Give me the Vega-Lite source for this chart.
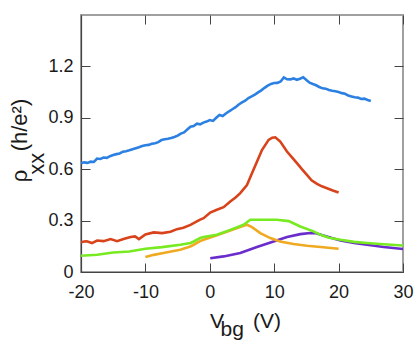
{
  "$schema": "https://vega.github.io/schema/vega-lite/v6.json",
  "width": 322,
  "height": 257,
  "autosize": {"type": "none"},
  "padding": {"left": 81, "top": 15, "right": 12, "bottom": 74},
  "background": "white",
  "config": {
    "view": {"stroke": "#a0a0a0", "strokeWidth": 2},
    "font": "Liberation Sans"
  },
  "datasets": {
    "curves": [
      {"s": "s1", "x": -20, "y": 0.635}, {"s": "s1", "x": -19.5, "y": 0.640}, {"s": "s1", "x": -19, "y": 0.637}, {"s": "s1", "x": -18.5, "y": 0.644},
      {"s": "s1", "x": -18, "y": 0.642}, {"s": "s1", "x": -17.5, "y": 0.662}, {"s": "s1", "x": -17, "y": 0.660}, {"s": "s1", "x": -16.5, "y": 0.668},
      {"s": "s1", "x": -16, "y": 0.666}, {"s": "s1", "x": -15.5, "y": 0.676}, {"s": "s1", "x": -15, "y": 0.683}, {"s": "s1", "x": -14.5, "y": 0.688},
      {"s": "s1", "x": -14, "y": 0.692}, {"s": "s1", "x": -13.5, "y": 0.702}, {"s": "s1", "x": -13, "y": 0.705}, {"s": "s1", "x": -12.5, "y": 0.710},
      {"s": "s1", "x": -12, "y": 0.716}, {"s": "s1", "x": -11.5, "y": 0.722}, {"s": "s1", "x": -11, "y": 0.728}, {"s": "s1", "x": -10.5, "y": 0.735},
      {"s": "s1", "x": -10, "y": 0.740}, {"s": "s1", "x": -9.5, "y": 0.742}, {"s": "s1", "x": -9, "y": 0.748}, {"s": "s1", "x": -8.5, "y": 0.752},
      {"s": "s1", "x": -8, "y": 0.758}, {"s": "s1", "x": -7.5, "y": 0.770}, {"s": "s1", "x": -7, "y": 0.775}, {"s": "s1", "x": -6.5, "y": 0.778},
      {"s": "s1", "x": -6, "y": 0.782}, {"s": "s1", "x": -5.5, "y": 0.788}, {"s": "s1", "x": -5, "y": 0.796}, {"s": "s1", "x": -4.5, "y": 0.808},
      {"s": "s1", "x": -4, "y": 0.815}, {"s": "s1", "x": -3.5, "y": 0.832}, {"s": "s1", "x": -3, "y": 0.848}, {"s": "s1", "x": -2.5, "y": 0.852},
      {"s": "s1", "x": -2, "y": 0.866}, {"s": "s1", "x": -1.5, "y": 0.862}, {"s": "s1", "x": -1, "y": 0.872}, {"s": "s1", "x": -0.5, "y": 0.878},
      {"s": "s1", "x": 0, "y": 0.887}, {"s": "s1", "x": 0.5, "y": 0.882}, {"s": "s1", "x": 1, "y": 0.900}, {"s": "s1", "x": 1.5, "y": 0.916},
      {"s": "s1", "x": 2, "y": 0.910}, {"s": "s1", "x": 2.5, "y": 0.925}, {"s": "s1", "x": 3, "y": 0.938}, {"s": "s1", "x": 3.5, "y": 0.950},
      {"s": "s1", "x": 4, "y": 0.962}, {"s": "s1", "x": 4.5, "y": 0.978}, {"s": "s1", "x": 5, "y": 0.990}, {"s": "s1", "x": 5.5, "y": 1.000},
      {"s": "s1", "x": 6, "y": 1.015}, {"s": "s1", "x": 6.5, "y": 1.025}, {"s": "s1", "x": 7, "y": 1.035}, {"s": "s1", "x": 7.5, "y": 1.048},
      {"s": "s1", "x": 8, "y": 1.060}, {"s": "s1", "x": 8.5, "y": 1.075}, {"s": "s1", "x": 9, "y": 1.088}, {"s": "s1", "x": 9.5, "y": 1.098},
      {"s": "s1", "x": 10, "y": 1.103}, {"s": "s1", "x": 10.5, "y": 1.104}, {"s": "s1", "x": 11, "y": 1.112}, {"s": "s1", "x": 11.5, "y": 1.136},
      {"s": "s1", "x": 12, "y": 1.125}, {"s": "s1", "x": 12.5, "y": 1.124}, {"s": "s1", "x": 13, "y": 1.130}, {"s": "s1", "x": 13.5, "y": 1.122},
      {"s": "s1", "x": 14, "y": 1.128}, {"s": "s1", "x": 14.5, "y": 1.136}, {"s": "s1", "x": 15, "y": 1.120}, {"s": "s1", "x": 15.5, "y": 1.105},
      {"s": "s1", "x": 16, "y": 1.097}, {"s": "s1", "x": 16.5, "y": 1.090}, {"s": "s1", "x": 17, "y": 1.080}, {"s": "s1", "x": 17.5, "y": 1.072},
      {"s": "s1", "x": 18, "y": 1.070}, {"s": "s1", "x": 18.5, "y": 1.062}, {"s": "s1", "x": 19, "y": 1.058}, {"s": "s1", "x": 19.5, "y": 1.055},
      {"s": "s1", "x": 20, "y": 1.050}, {"s": "s1", "x": 20.5, "y": 1.044}, {"s": "s1", "x": 21, "y": 1.040}, {"s": "s1", "x": 21.5, "y": 1.030},
      {"s": "s1", "x": 22, "y": 1.025}, {"s": "s1", "x": 22.5, "y": 1.020}, {"s": "s1", "x": 23, "y": 1.018}, {"s": "s1", "x": 23.5, "y": 1.010},
      {"s": "s1", "x": 24, "y": 1.012}, {"s": "s1", "x": 24.5, "y": 1.004}, {"s": "s1", "x": 25, "y": 0.998},

      {"s": "s2", "x": -20, "y": 0.173}, {"s": "s2", "x": -19.5, "y": 0.178}, {"s": "s2", "x": -19.1, "y": 0.179}, {"s": "s2", "x": -18.3, "y": 0.169},
      {"s": "s2", "x": -17.5, "y": 0.184}, {"s": "s2", "x": -16.5, "y": 0.180}, {"s": "s2", "x": -15.4, "y": 0.192}, {"s": "s2", "x": -14.4, "y": 0.180},
      {"s": "s2", "x": -13.4, "y": 0.192}, {"s": "s2", "x": -12.3, "y": 0.204}, {"s": "s2", "x": -11.6, "y": 0.208}, {"s": "s2", "x": -11.0, "y": 0.192},
      {"s": "s2", "x": -10.0, "y": 0.219}, {"s": "s2", "x": -8.7, "y": 0.231}, {"s": "s2", "x": -7.4, "y": 0.227}, {"s": "s2", "x": -6.1, "y": 0.235},
      {"s": "s2", "x": -5.1, "y": 0.250}, {"s": "s2", "x": -4.1, "y": 0.258}, {"s": "s2", "x": -3.0, "y": 0.275}, {"s": "s2", "x": -2.3, "y": 0.289},
      {"s": "s2", "x": -1.5, "y": 0.306}, {"s": "s2", "x": -0.96, "y": 0.314}, {"s": "s2", "x": 0.07, "y": 0.347}, {"s": "s2", "x": 1.0, "y": 0.362},
      {"s": "s2", "x": 2.14, "y": 0.378}, {"s": "s2", "x": 3.18, "y": 0.411}, {"s": "s2", "x": 4.0, "y": 0.435}, {"s": "s2", "x": 4.73, "y": 0.460},
      {"s": "s2", "x": 5.77, "y": 0.508}, {"s": "s2", "x": 6.55, "y": 0.576}, {"s": "s2", "x": 7.32, "y": 0.644}, {"s": "s2", "x": 8.1, "y": 0.712},
      {"s": "s2", "x": 9.13, "y": 0.771}, {"s": "s2", "x": 9.7, "y": 0.784}, {"s": "s2", "x": 10.17, "y": 0.786}, {"s": "s2", "x": 10.94, "y": 0.761},
      {"s": "s2", "x": 11.98, "y": 0.703}, {"s": "s2", "x": 12.8, "y": 0.668}, {"s": "s2", "x": 13.53, "y": 0.635}, {"s": "s2", "x": 14.3, "y": 0.600},
      {"s": "s2", "x": 15.08, "y": 0.567}, {"s": "s2", "x": 15.8, "y": 0.535}, {"s": "s2", "x": 16.65, "y": 0.514}, {"s": "s2", "x": 17.4, "y": 0.500},
      {"s": "s2", "x": 18.2, "y": 0.489}, {"s": "s2", "x": 19.1, "y": 0.476}, {"s": "s2", "x": 20.0, "y": 0.464},

      {"s": "s3", "x": 0.07, "y": 0.080}, {"s": "s3", "x": 2.14, "y": 0.091}, {"s": "s3", "x": 4.73, "y": 0.111}, {"s": "s3", "x": 7.32, "y": 0.146},
      {"s": "s3", "x": 9.9, "y": 0.178}, {"s": "s3", "x": 12.0, "y": 0.204}, {"s": "s3", "x": 14.05, "y": 0.221}, {"s": "s3", "x": 15.6, "y": 0.228},
      {"s": "s3", "x": 16.5, "y": 0.226}, {"s": "s3", "x": 17.5, "y": 0.215}, {"s": "s3", "x": 19.2, "y": 0.196}, {"s": "s3", "x": 20.3, "y": 0.184},
      {"s": "s3", "x": 22.4, "y": 0.170}, {"s": "s3", "x": 24.4, "y": 0.159}, {"s": "s3", "x": 27, "y": 0.146}, {"s": "s3", "x": 30, "y": 0.134},

      {"s": "s4", "x": -10, "y": 0.087}, {"s": "s4", "x": -8.7, "y": 0.100}, {"s": "s4", "x": -7.4, "y": 0.110}, {"s": "s4", "x": -4.6, "y": 0.130},
      {"s": "s4", "x": -3.03, "y": 0.149}, {"s": "s4", "x": -2.5, "y": 0.159}, {"s": "s4", "x": -1.5, "y": 0.180}, {"s": "s4", "x": -0.96, "y": 0.188},
      {"s": "s4", "x": 1.1, "y": 0.214}, {"s": "s4", "x": 3.18, "y": 0.242}, {"s": "s4", "x": 5.25, "y": 0.270}, {"s": "s4", "x": 5.77, "y": 0.276},
      {"s": "s4", "x": 6.55, "y": 0.262}, {"s": "s4", "x": 7.84, "y": 0.227}, {"s": "s4", "x": 9.4, "y": 0.198}, {"s": "s4", "x": 10.9, "y": 0.178},
      {"s": "s4", "x": 13.0, "y": 0.163}, {"s": "s4", "x": 15.1, "y": 0.153}, {"s": "s4", "x": 17.2, "y": 0.146}, {"s": "s4", "x": 20, "y": 0.136},

      {"s": "s5", "x": -20, "y": 0.095}, {"s": "s5", "x": -17.5, "y": 0.101}, {"s": "s5", "x": -15, "y": 0.114}, {"s": "s5", "x": -12.5, "y": 0.120},
      {"s": "s5", "x": -10, "y": 0.136}, {"s": "s5", "x": -7.4, "y": 0.145}, {"s": "s5", "x": -4.6, "y": 0.159}, {"s": "s5", "x": -3.0, "y": 0.169},
      {"s": "s5", "x": -2.5, "y": 0.178}, {"s": "s5", "x": -1.5, "y": 0.198}, {"s": "s5", "x": -0.96, "y": 0.204}, {"s": "s5", "x": 1.1, "y": 0.217},
      {"s": "s5", "x": 3.18, "y": 0.246}, {"s": "s5", "x": 5.25, "y": 0.276}, {"s": "s5", "x": 6.29, "y": 0.305}, {"s": "s5", "x": 8.35, "y": 0.305},
      {"s": "s5", "x": 10.4, "y": 0.305}, {"s": "s5", "x": 12.25, "y": 0.297}, {"s": "s5", "x": 14.05, "y": 0.266}, {"s": "s5", "x": 16.1, "y": 0.237},
      {"s": "s5", "x": 17.2, "y": 0.217}, {"s": "s5", "x": 18.5, "y": 0.200}, {"s": "s5", "x": 20.3, "y": 0.188}, {"s": "s5", "x": 22.4, "y": 0.176},
      {"s": "s5", "x": 24.4, "y": 0.169}, {"s": "s5", "x": 27, "y": 0.162}, {"s": "s5", "x": 30, "y": 0.155}
    ]
  },
  "data": {"name": "curves"},
  "layer": [
    {
      "mark": {"type": "line", "strokeWidth": 2.6, "clip": true},
      "encoding": {
        "x": {
          "field": "x", "type": "quantitative",
          "scale": {"domain": [-20, 30], "nice": false, "zero": false},
          "axis": {
            "orient": "bottom",
            "values": [-20, -10, 0, 10, 20, 30],
            "labelExpr": "datum.value < 0 ? '-' + abs(datum.value) : '' + datum.value",
            "grid": false,
            "tickSize": -9,
            "tickColor": "#444",
            "domainColor": "#444",
            "domainWidth": 1.2,
            "labelFontSize": 18,
            "labelColor": "#1a1a1a",
            "labelPadding": 20,
            "labelFlush": false,
            "labelFont": "Liberation Sans",
            "title": ["V\u00a0\u00a0\u00a0\u00a0\u00a0(V)", "bg\u00a0\u00a0\u2800"],
            "titleFont": "Liberation Sans",
            "titleFontSize": 21,
            "titleFontWeight": "normal",
            "titleColor": "#1a1a1a",
            "titleLineHeight": 8,
            "titleBaseline": "alphabetic",
            "titleAlign": "center",
            "titleX": 164,
            "titleY": 55
          }
        },
        "y": {
          "field": "y", "type": "quantitative",
          "scale": {"domain": [0, 1.5], "nice": false},
          "axis": {
            "orient": "left",
            "values": [0, 0.3, 0.6, 0.9, 1.2],
            "labelExpr": "datum.value == 0 ? '0' : format(datum.value, '.1f')",
            "grid": false,
            "tickSize": -9,
            "tickColor": "#444",
            "domainColor": "#444",
            "domainWidth": 1.2,
            "labelFontSize": 18,
            "labelColor": "#1a1a1a",
            "labelPadding": 17,
            "labelFont": "Liberation Sans",
            "title": ["ρ\u00a0\u00a0\u00a0(h/e²)", "xx\u00a0\u00a0\u00a0\u00a0\u00a0\u2800"],
            "titleFont": "Liberation Sans",
            "titleFontSize": 22,
            "titleFontWeight": "normal",
            "titleColor": "#1a1a1a",
            "titleLineHeight": 17,
            "titleBaseline": "alphabetic",
            "titleAlign": "center",
            "titleAngle": -90,
            "titleX": -55,
            "titleY": 125
          }
        },
        "color": {
          "field": "s", "type": "nominal",
          "scale": {"domain": ["s1", "s2", "s3", "s4", "s5"], "range": ["#2b80e2", "#d8431c", "#6a2dcc", "#f0aa22", "#78ea22"]},
          "legend": null
        }
      }
    },
    {
      "mark": {"type": "point", "opacity": 0},
      "encoding": {
        "x": {
          "field": "x", "type": "quantitative",
          "axis": {"orient": "top", "values": [-20, -10, 0, 10, 20, 30], "grid": false, "labels": false, "domain": false, "tickSize": -9, "tickColor": "#444", "title": null}
        },
        "y": {
          "field": "y", "type": "quantitative",
          "axis": {"orient": "right", "values": [0, 0.3, 0.6, 0.9, 1.2], "grid": false, "labels": false, "domain": false, "tickSize": -9, "tickColor": "#444", "title": null}
        }
      }
    }
  ],
  "resolve": {"axis": {"x": "independent", "y": "independent"}}
}
